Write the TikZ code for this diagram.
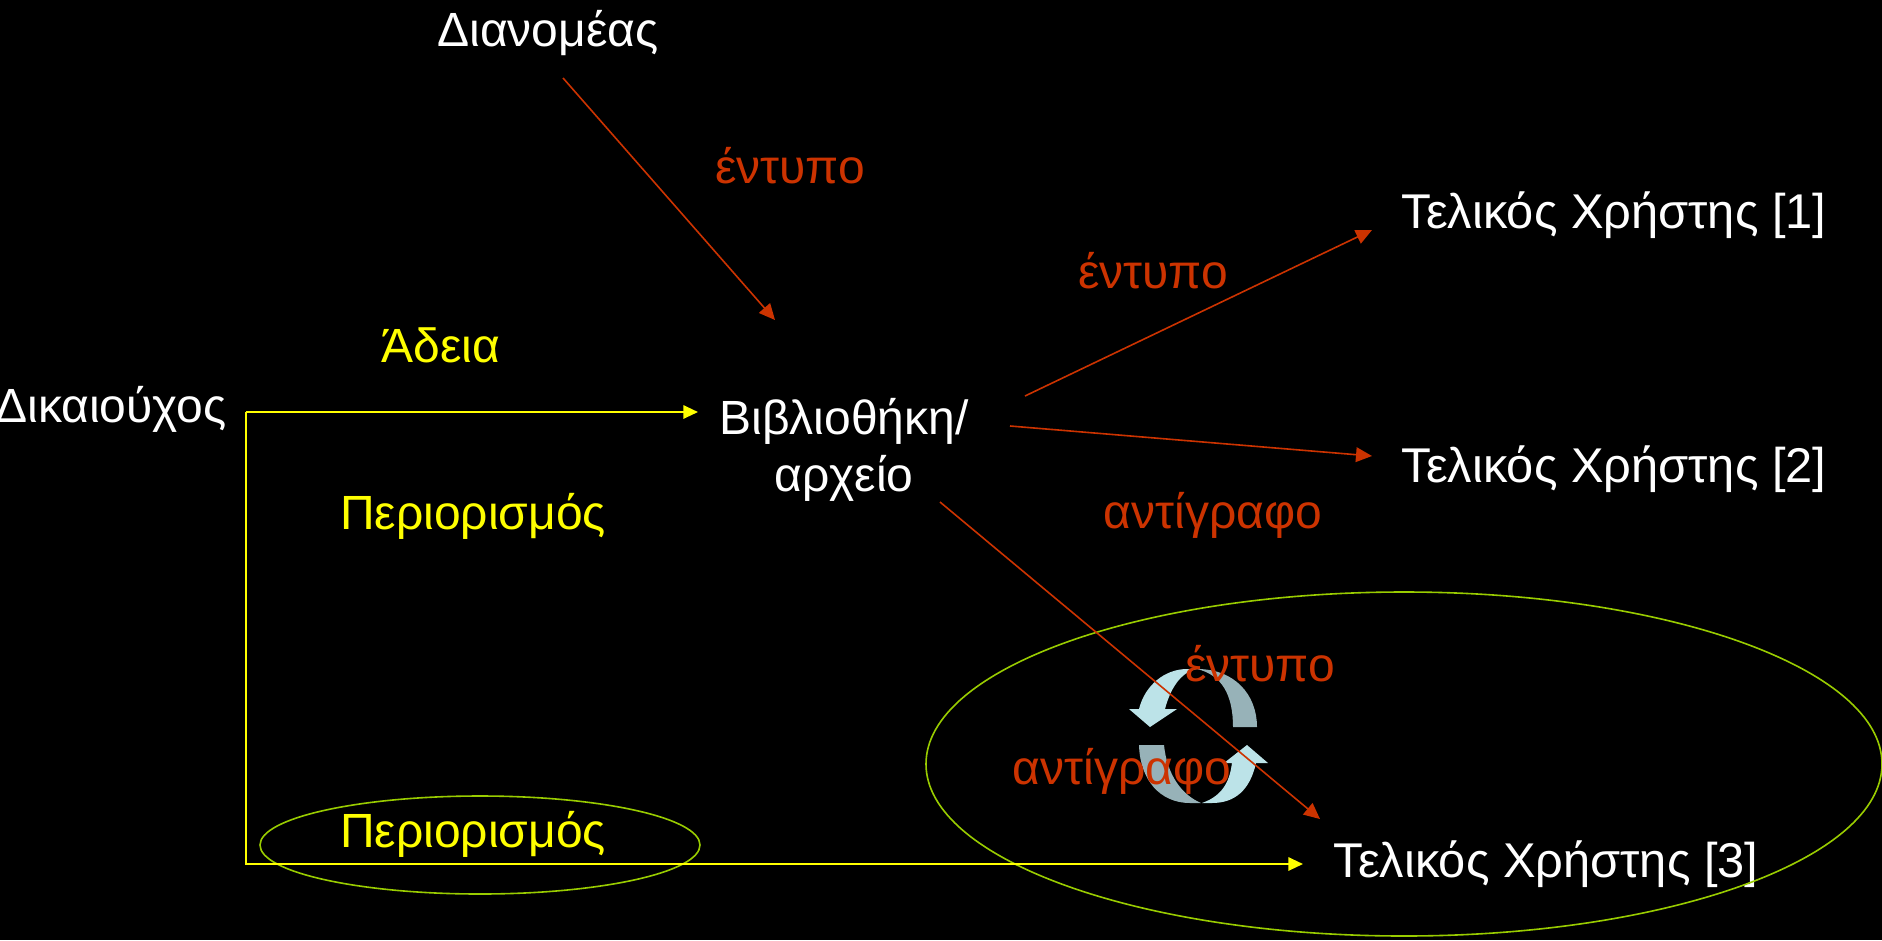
\documentclass[tikz,border=0pt]{standalone}
\usepackage{fontspec}
\setmainfont{Liberation Sans}
\usetikzlibrary{arrows.meta}
\definecolor{redtext}{HTML}{CC3300}
\definecolor{yellowtext}{HTML}{FFFF00}
\definecolor{ringgreen}{HTML}{99CC00}
\definecolor{lightarc}{HTML}{BCE3E8}
\definecolor{darkarc}{HTML}{97B2B8}
\tikzset{
  whitelabel/.style={text=white,inner sep=0pt,font=\fontsize{36}{43}\selectfont,align=center},
  userlabel/.style={text=white,inner sep=0pt,font=\fontsize{36.6}{44}\selectfont},
  redlabel/.style={text=redtext,inner sep=0pt,font=\fontsize{36}{44}\selectfont},
  yellowlabel/.style={text=yellowtext,inner sep=0pt,font=\fontsize{36}{44}\selectfont},
  redline/.style={draw=redtext,line width=1.2pt,-{Triangle[length=12pt,width=11pt]}},
  yellowline/.style={draw=yellowtext,line width=1.5pt,-{Triangle[length=11pt,width=10pt]}},
  ring/.style={draw=ringgreen,line width=1.2pt}
}
\begin{document}
\begin{tikzpicture}[x=0.75pt,y=-0.75pt]
  \fill[black] (0,0) rectangle (1882,940);
  \useasboundingbox (0,0) rectangle (1882,940);
  % circular arrows
  \fill[lightarc] (1139,709) .. controls (1145,685) and (1165,669) .. (1187,669) -- (1197,669) .. controls (1180,672) and (1170,690) .. (1165,709) -- (1177,709) -- (1150,727) -- (1129,709) -- cycle;
  \fill[darkarc] (1197,669) .. controls (1235,669) and (1257,695) .. (1257,727) -- (1233,727) .. controls (1233,695) and (1222,675) .. (1197,669) -- cycle;
  \fill[darkarc] (1139,745) -- (1164,745) .. controls (1167,775) and (1182,795) .. (1201,803) -- (1190,803) .. controls (1160,803) and (1140,780) .. (1139,745) -- cycle;
  \fill[lightarc] (1202,803) .. controls (1225,795) and (1230,778) .. (1232,763) -- (1224,763) -- (1247,745) -- (1268,763) -- (1256,763) .. controls (1250,790) and (1235,803) .. (1212,803) -- cycle;
  % nodes
  \node[whitelabel] (dist) at (548,33) {Διανομέας};
  \node[whitelabel] (owner) at (111,409) {Δικαιούχος};
  \node[whitelabel] (lib) at (844,450) {Βιβλιοθήκη/\\αρχείο};
  \node[userlabel] (user1) at (1614,215) {Τελικός Χρήστης [1]};
  \node[userlabel] (user2) at (1614,469) {Τελικός Χρήστης [2]};
  \node[userlabel] (user3) at (1546,864) {Τελικός Χρήστης [3]};
  \node[redlabel] (print1) at (790,166) {έντυπο};
  \node[redlabel] (print2) at (1153,271) {έντυπο};
  \node[redlabel] (print3) at (1260,664) {έντυπο};
  \node[redlabel] (copy1) at (1213,515) {αντίγραφο};
  \node[redlabel] (copy2) at (1122,771) {αντίγραφο};
  \node[yellowlabel] (licence) at (441,345) {Άδεια};
  \node[yellowlabel] (limit1) at (473,516) {Περιορισμός};
  \node[yellowlabel] (limit2) at (473,834) {Περιορισμός};
  \coordinate (corner) at (246,412);
  \coordinate (lower) at (246,864);
  % ellipses
  \draw[ring] (1404,764) ellipse [x radius=478,y radius=172];
  \draw[ring] (480,845) ellipse [x radius=220,y radius=49];
  % connectors
  \draw[yellowline] (corner) -- ([shift={(-146,-38)}]lib.center);
  \draw[yellowline] (corner) -- (lower) -- ([shift={(-243,0)}]user3.center);
  \draw[redline] ([shift={(15,45)}]dist.center) -- ([shift={(-69,-130)}]lib.center);
  \draw[redline] ([shift={(181,-54)}]lib.center) -- ([shift={(-242,15)}]user1.center);
  \draw[redline] ([shift={(166,-24)}]lib.center) -- ([shift={(-242,-13)}]user2.center);
  \draw[redline] ([shift={(96,52)}]lib.center) -- ([shift={(-226,-45)}]user3.center);
\end{tikzpicture}
\end{document}
